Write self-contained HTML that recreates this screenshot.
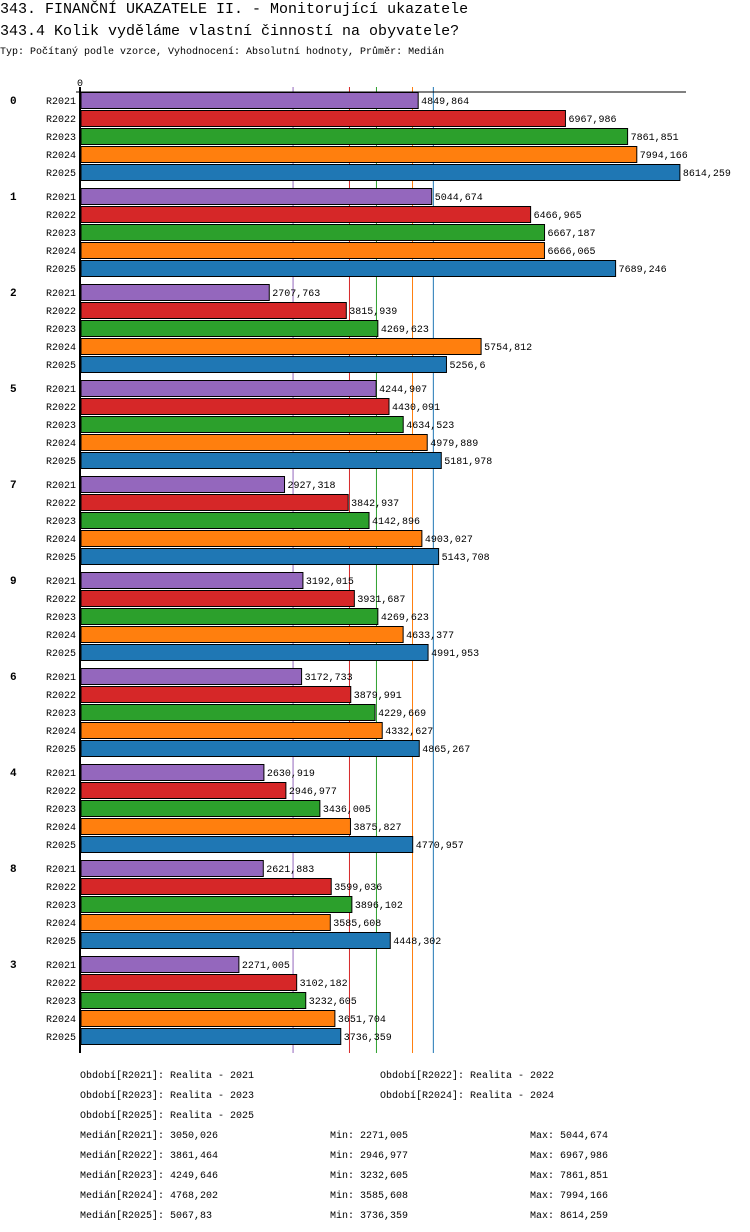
<!DOCTYPE html>
<html><head><meta charset="utf-8"><style>
body{margin:0;background:#fff;width:750px;height:1232px;overflow:hidden}
svg{display:block;font-family:"Liberation Mono","DejaVu Sans Mono",monospace}
</style></head><body>
<svg id="c" width="750" height="1232">
<text x="0" y="13" font-size="15">343. FINANČNÍ UKAZATELE II. - Monitorující ukazatele</text>
<text x="0" y="35" font-size="15">343.4 Kolik vyděláme vlastní činností na obyvatele?</text>
<text x="0" y="54" font-size="10">Typ: Počítaný podle vzorce, Vyhodnocení: Absolutní hodnoty, Průměr: Medián</text>
</svg>
<script>
const groups=["0","1","2","5","7","9","6","4","8","3"];
const series=["R2021","R2022","R2023","R2024","R2025"];
const colors=["#9467bd","#d62728","#2ca02c","#ff7f0e","#1f77b4"];
const v2021=[4849.864,5044.674,2707.763,4244.907,2927.318,3192.015,3172.733,2630.919,2621.883,2271.005];
const v2022=[6967.986,6466.965,3815.939,4430.091,3842.937,3931.687,3879.991,2946.977,3599.036,3102.182];
const v2023=[7861.851,6667.187,4269.623,4634.523,4142.896,4269.623,4229.669,3436.005,3896.102,3232.605];
const v2024=[7994.166,6666.065,5754.812,4979.889,4903.027,4633.377,4332.627,3875.827,3585.608,3651.704];
const v2025=[8614.259,7689.246,5256.6,5181.978,5143.708,4991.953,4865.267,4770.957,4448.302,3736.359];
const medians=[3050.026,3861.464,4249.646,4768.202,5067.83];
const mins=["2271,005","2946,977","3232,605","3585,608","3736,359"];
const maxs=["5044,674","6967,986","7861,851","7994,166","8614,259"];
const medLabels=["3050,026","3861,464","4249,646","4768,202","5067,83"];
const periods=["Realita - 2021","Realita - 2022","Realita - 2023","Realita - 2024","Realita - 2025"];
const vals=[v2021,v2022,v2023,v2024,v2025];
const svg=document.getElementById('c');const NS="http://www.w3.org/2000/svg";
const X0=81,S=600/8630;const x=v=>X0+v*S;
const top0=92,pitch=18,gpitch=96;
function mk(t,a,txt){const e=document.createElementNS(NS,t);for(const k in a)e.setAttribute(k,a[k]);if(txt!==undefined)e.textContent=txt;svg.appendChild(e);return e;}
const fmt=v=>String(v).replace('.',',');
medians.forEach((m,i)=>{const l=mk('line',{x1:x(m),x2:x(m),y1:87,y2:1053,stroke:colors[i],'stroke-width':1});

});
groups.forEach((g,gi)=>{
 const gy=top0+gi*gpitch;
 const gl=mk('text',{x:10,y:gy+12,'font-size':11,'font-weight':'bold'},g);
 
 
 series.forEach((s,si)=>{
  const y=gy+si*pitch;const v=vals[si][gi];
  const sl=mk('text',{x:76,y:y+12,'font-size':10,'text-anchor':'end'},s);
  
  
  const r=mk('rect',{x:X0,y:y+0.5,width:x(v)-X0,height:16,fill:colors[si],stroke:'#000','stroke-width':1});
  
  
  const t=mk('text',{x:x(v)+3,y:y+12,'font-size':10},fmt(v));
  
  
 });
});
const ax=mk('line',{x1:80,x2:80,y1:87,y2:1053,stroke:'#000','stroke-width':2});


const ax2=mk('line',{x1:76,x2:686,y1:92,y2:92,stroke:'#000','stroke-width':1});


const z=mk('text',{x:77,y:86,'font-size':10},'0');


const lp=[[80,1078],[380,1078],[80,1098],[380,1098],[80,1118]];
series.forEach((s,i)=>{const t=mk('text',{x:lp[i][0],y:lp[i][1],'font-size':10},'Období['+s+']: '+periods[i]);


const y=1138+i*20;
const a=mk('text',{x:80,y:y,'font-size':10},'Medián['+s+']: '+medLabels[i]);


const b=mk('text',{x:330,y:y,'font-size':10},'Min: '+mins[i]);


const c=mk('text',{x:530,y:y,'font-size':10},'Max: '+maxs[i]);

});
</script>
</body></html>
